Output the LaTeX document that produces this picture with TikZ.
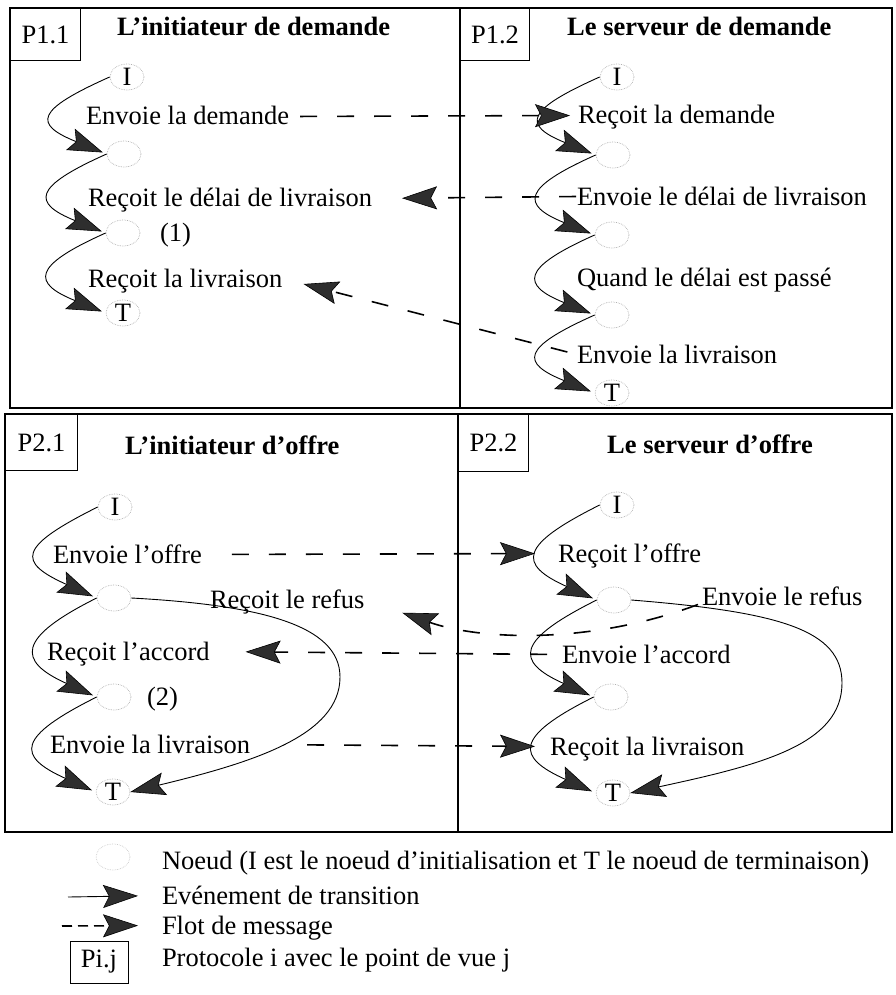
\documentclass[tikz,border=0pt]{standalone}
\usepackage{fontspec}
\setmainfont{Liberation Serif}
\usetikzlibrary{arrows.meta,shapes.geometric,calc}

\begin{document}
\begin{tikzpicture}[x=1pt,y=-1pt,
  every node/.style={font=\fontsize{26.5}{30}\selectfont},
  st/.style={ellipse, draw=gray!60, densely dotted, line width=0.7pt,
    minimum width=34pt, minimum height=26pt, inner sep=0pt},
  lbl/.style={anchor=base west, inner sep=0pt, outer sep=0pt,
    text height=17pt, text depth=0pt},
  ttl/.style={anchor=base west, inner sep=0pt,
    font=\fontsize{26.5}{30}\selectfont\bfseries},
  pbox/.style={draw, line width=1pt, anchor=north west,
    minimum width=70pt, minimum height=52pt, inner sep=0pt},
  tip/.style={-{Stealth[length=35pt,width=23pt,inset=6pt,fill=black!82,line width=0.6pt]}},
  trans/.style={tip, line width=0.9pt, shorten >=4pt},
  msg/.style={tip, line width=1.6pt, dash pattern=on 17pt off 20pt},
  panel/.style={line width=2.2pt},
  divider/.style={line width=1.5pt}]

\useasboundingbox (0,0) rectangle (896,995);

% panels
\draw[panel] (10,8) rectangle (892,408);
\draw[divider] (460,8) -- (460,408);
\draw[panel] (5,414) rectangle (892,832);
\draw[divider] (458,414) -- (458,832);

% protocol / view labels
\node[pbox] (p11) at (10,8) {P1.1};
\node[pbox, minimum width=69pt] (p12) at (460,8) {P1.2};
\node[pbox, minimum width=72pt, minimum height=56pt] (p21) at (5,414) {P2.1};
\node[pbox, minimum height=57pt] (p22) at (458,414) {P2.2};

\node[ttl] (t11) at (117,36) {L’initiateur de demande};
\node[ttl] (t12) at (567,36) {Le serveur de demande};
\node[ttl] (t21) at (125,454) {L’initiateur d’offre};
\node[ttl] (t22) at (607,453) {Le serveur d’offre};

% P1.1 : request initiator
\node[st] (tlI) at (127,77) {I};
\node[st] (tl2) at (124,154) {};
\node[st] (tl3) at (123,233) {};
\node[st] (tlT) at (123,313) {T};
\node[lbl] (tlA) at (86,125) {Envoie la demande};
\node[lbl] (tlB) at (88,207) {Reçoit le délai de livraison};
\node[lbl] (tlC) at (160,241) {(1)};
\node[lbl] (tlD) at (88,287) {Reçoit la livraison};

% P1.2 : request server
\node[st] (trI) at (617,77) {I};
\node[st] (tr2) at (613,155) {};
\node[st] (tr3) at (612,235) {};
\node[st] (tr4) at (612,315) {};
\node[st] (trT) at (612,393) {T};
\node[lbl] (trA) at (578,124) {Reçoit la demande};
\node[lbl] (trB) at (577,205) {Envoie le délai de livraison};
\node[lbl] (trC) at (577,286) {Quand le délai est passé};
\node[lbl] (trD) at (577,363) {Envoie la livraison};

% P2.1 : offer initiator
\node[st] (blI) at (115,507) {I};
\node[st] (bl2) at (114,598) {};
\node[st] (bl3) at (114,697) {};
\node[st] (blT) at (113,792) {T};
\node[lbl] (blA) at (53,563) {Envoie l’offre};
\node[lbl] (blB) at (210,608) {Reçoit le refus};
\node[lbl] (blC) at (47,660) {Reçoit l’accord};
\node[lbl] (blD) at (147,705) {(2)};
\node[lbl] (blE) at (50,753) {Envoie la livraison};

% P2.2 : offer server
\node[st] (brI) at (617,505) {I};
\node[st] (br2) at (614,600) {};
\node[st] (br3) at (611,697) {};
\node[st] (brT) at (613,793) {T};
\node[lbl] (brA) at (558,562) {Reçoit l’offre};
\node[lbl] (brB) at (702,605) {Envoie le refus};
\node[lbl] (brC) at (562,663) {Envoie l’accord};
\node[lbl] (brD) at (550,755) {Reçoit la livraison};

% transition events
\foreach \a/\b in {tlI/tl2, tl2/tl3, tl3/tlT, trI/tr2, tr2/tr3, tr3/tr4, tr4/trT}
  \draw[trans] (\a.west) .. controls ($(\a.west)+(-74,33)$) and ($(\b.west)+(-74,-30)$) .. (\b.west);
\foreach \a/\b in {blI/bl2, bl2/bl3, bl3/blT, brI/br2, br2/br3, br3/brT}
  \draw[trans] (\a.west) .. controls ($(\a.west)+(-80,40)$) and ($(\b.west)+(-80,-36)$) .. (\b.west);

% refusal branches
\coordinate (bLoop) at (340,677);
\draw[trans, shorten >=0pt] (bl2.east) .. controls (260,605) and (340,625) .. (bLoop)
  .. controls (340,735) and (255,762) .. (blT.east);
\coordinate (rLoop) at (842,683);
\draw[trans, shorten >=0pt] (br2.east) .. controls (780,612) and (842,630) .. (rLoop)
  .. controls (842,745) and (760,765) .. (brT.east);

% message flows
\draw[msg, shorten <=11pt, shorten >=8pt] (tlA.east) -- (trA.west);
\draw[msg, shorten <=1pt, shorten >=30pt] (trB.west) -- (tlB.east);
\draw[msg, shorten <=10pt, shorten >=22pt] (trD.west) -- (tlD.east);
\draw[msg, shorten <=30pt, shorten >=23pt] (blA.east) -- (brA.west);
\draw[msg, shorten >=40pt] ([xshift=-4pt,yshift=-8pt]brB.west)
  .. controls (590,645) and (480,640) .. (blB.east);
\draw[msg, shorten <=15pt, shorten >=36pt] (brC.west) -- (blC.east);
\draw[msg, shorten <=57pt, shorten >=15pt] (blE.east) -- (brD.west);

% legend
\node[st, draw=gray!40] (lgN) at (113,857) {};
\node[lbl] (lgA) at (162,869) {Noeud (I est le noeud d’initialisation et T le noeud de terminaison)};
\coordinate (lgT0) at (68,897);
\node[lbl] (lgB) at (162,904) {Evénement de transition};
\draw[tip, line width=0.9pt, shorten >=24pt] (lgT0) -- (lgB.west);
\coordinate (lgM0) at (62,926);
\node[lbl] (lgC) at (162,934) {Flot de message};
\draw[tip, line width=1.6pt, dash pattern=on 10pt off 6pt, shorten >=24pt] (lgM0) -- (lgC.west);
\node[draw, line width=1pt, minimum width=58pt, minimum height=42pt, inner sep=0pt] (lgP) at (99,962) {Pi.j};
\node[lbl] (lgD) at (162,966) {Protocole i avec le point de vue j};

\end{tikzpicture}
\end{document}
